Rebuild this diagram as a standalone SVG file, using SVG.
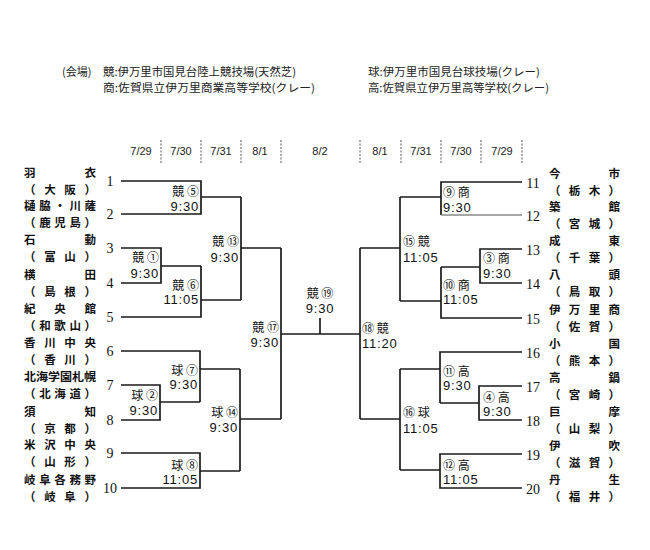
<svg xmlns="http://www.w3.org/2000/svg" width="650" height="550" viewBox="0 0 650 550">
<style>
.hd{font-family:"Noto Sans CJK JP","Noto Sans",sans-serif;font-size:11px;fill:#222}
.dt{font-family:"Liberation Sans",Arial,sans-serif;font-size:11px;fill:#222;text-anchor:middle}
.sep{stroke:#555;stroke-width:1;stroke-dasharray:2 1.5}
.num{font-family:"Liberation Serif","Times New Roman",serif;font-size:14px;fill:#111;text-anchor:middle}
.tm{font-family:"Noto Sans CJK JP","Noto Sans",sans-serif;font-size:11.5px;font-weight:bold;fill:#111}
.ml{font-family:"Noto Sans CJK JP","Noto Sans",sans-serif;font-size:12px;fill:#111}
.tt{font-family:"Liberation Sans",Arial,sans-serif;font-size:13px;fill:#111;letter-spacing:0.8px}
.r{text-anchor:end}
.c{text-anchor:middle}
.ln{fill:none;stroke:#1a1a1a;stroke-width:1.7}
</style>
<rect width="650" height="550" fill="#fff"/>
<g id="header">
<text class="hd" x="62" y="76">(会場)</text>
<text class="hd" x="103" y="76" textLength="193" lengthAdjust="spacingAndGlyphs">競:伊万里市国見台陸上競技場(天然芝)</text>
<text class="hd" x="103" y="92" textLength="212" lengthAdjust="spacingAndGlyphs">商:佐賀県立伊万里商業高等学校(クレー)</text>
<text class="hd" x="368" y="76" textLength="172" lengthAdjust="spacingAndGlyphs">球:伊万里市国見台球技場(クレー)</text>
<text class="hd" x="368" y="92" textLength="181" lengthAdjust="spacingAndGlyphs">高:佐賀県立伊万里高等学校(クレー)</text>
</g>
<g id="dates">
<line class="sep" x1="161" y1="140" x2="161" y2="163"/>
<line class="sep" x1="201" y1="140" x2="201" y2="163"/>
<line class="sep" x1="241" y1="140" x2="241" y2="163"/>
<line class="sep" x1="281" y1="140" x2="281" y2="163"/>
<line class="sep" x1="360" y1="140" x2="360" y2="163"/>
<line class="sep" x1="401" y1="140" x2="401" y2="163"/>
<line class="sep" x1="441" y1="140" x2="441" y2="163"/>
<line class="sep" x1="481" y1="140" x2="481" y2="163"/>
<line class="sep" x1="522" y1="140" x2="522" y2="163"/>
<text class="dt" x="141" y="155">7/29</text>
<text class="dt" x="181" y="155">7/30</text>
<text class="dt" x="221" y="155">7/31</text>
<text class="dt" x="260" y="155">8/1</text>
<text class="dt" x="320" y="155">8/2</text>
<text class="dt" x="380" y="155">8/1</text>
<text class="dt" x="421" y="155">7/31</text>
<text class="dt" x="461" y="155">7/30</text>
<text class="dt" x="502" y="155">7/29</text>
</g>
<g id="connectors">
<path class="ln" d="M121,181 H201 V214 H121"/>
<path class="ln" d="M201,197 H241"/>
<path class="ln" d="M121,248 H161 V283 H121"/>
<path class="ln" d="M161,266 H201"/>
<path class="ln" d="M121,317 H201 V266"/>
<path class="ln" d="M201,300 H241"/>
<path class="ln" d="M241,197 V300"/>
<path class="ln" d="M241,248 H281"/>
<path class="ln" d="M121,351 H200 V402"/>
<path class="ln" d="M121,385 H160 V420 H121"/>
<path class="ln" d="M160,402 H200"/>
<path class="ln" d="M200,369 H240"/>
<path class="ln" d="M121,453 H200 V488 H121"/>
<path class="ln" d="M200,471 H240"/>
<path class="ln" d="M240,369 V471"/>
<path class="ln" d="M240,419 H281"/>
<path class="ln" d="M281,248 V419"/>
<path class="ln" d="M281,334 H360"/>
<path class="ln" d="M320,318 V334"/>
<path class="ln" d="M360,248 V419"/>
<path class="ln" d="M522,182 H441 V215"/>
<path fill="none" stroke="#888" stroke-width="1.3" d="M441,215 H522"/>
<path class="ln" d="M441,197 H400"/>
<path class="ln" d="M522,249 H480 V283 H522"/>
<path class="ln" d="M480,267 H441"/>
<path class="ln" d="M522,318 H441 V267"/>
<path class="ln" d="M441,301 H400"/>
<path class="ln" d="M400,197 V301"/>
<path class="ln" d="M400,248 H360"/>
<path class="ln" d="M522,352 H440 V403"/>
<path class="ln" d="M522,386 H479 V420 H522"/>
<path class="ln" d="M479,403 H440"/>
<path class="ln" d="M440,369 H400"/>
<path class="ln" d="M522,454 H440 V488 H522"/>
<path class="ln" d="M440,470 H400"/>
<path class="ln" d="M400,369 V470"/>
<path class="ln" d="M400,419 H360"/>
</g>
<g id="team1"><text class="tm" x="24" y="177" textLength="72" lengthAdjust="spacing">羽衣</text><text class="tm" x="24" y="194" textLength="72" lengthAdjust="spacing">（大阪）</text><text class="num" x="110" y="186">1</text></g>
<g id="team2"><text class="tm" x="24" y="210" textLength="72" lengthAdjust="spacing">樋脇・川薩</text><text class="tm" x="24" y="227" textLength="72" lengthAdjust="spacing">（鹿児島）</text><text class="num" x="110" y="219">2</text></g>
<g id="team3"><text class="tm" x="24" y="244" textLength="72" lengthAdjust="spacing">石動</text><text class="tm" x="24" y="261" textLength="72" lengthAdjust="spacing">（富山）</text><text class="num" x="110" y="253">3</text></g>
<g id="team4"><text class="tm" x="24" y="279" textLength="72" lengthAdjust="spacing">横田</text><text class="tm" x="24" y="296" textLength="72" lengthAdjust="spacing">（島根）</text><text class="num" x="110" y="288">4</text></g>
<g id="team5"><text class="tm" x="24" y="313" textLength="72" lengthAdjust="spacing">紀央館</text><text class="tm" x="24" y="330" textLength="72" lengthAdjust="spacing">（和歌山）</text><text class="num" x="110" y="322">5</text></g>
<g id="team6"><text class="tm" x="24" y="347" textLength="72" lengthAdjust="spacing">香川中央</text><text class="tm" x="24" y="364" textLength="72" lengthAdjust="spacing">（香川）</text><text class="num" x="110" y="356">6</text></g>
<g id="team7"><text class="tm" x="24" y="381" textLength="72" lengthAdjust="spacingAndGlyphs">北海学園札幌</text><text class="tm" x="24" y="398" textLength="72" lengthAdjust="spacing">（北海道）</text><text class="num" x="110" y="390">7</text></g>
<g id="team8"><text class="tm" x="24" y="416" textLength="72" lengthAdjust="spacing">須知</text><text class="tm" x="24" y="433" textLength="72" lengthAdjust="spacing">（京都）</text><text class="num" x="110" y="425">8</text></g>
<g id="team9"><text class="tm" x="24" y="449" textLength="72" lengthAdjust="spacing">米沢中央</text><text class="tm" x="24" y="466" textLength="72" lengthAdjust="spacing">（山形）</text><text class="num" x="110" y="458">9</text></g>
<g id="team10"><text class="tm" x="24" y="484" textLength="72" lengthAdjust="spacing">岐阜各務野</text><text class="tm" x="24" y="501" textLength="72" lengthAdjust="spacing">（岐阜）</text><text class="num" x="110" y="493">10</text></g>
<g id="team11"><text class="tm" x="549" y="178" textLength="71" lengthAdjust="spacing">今市</text><text class="tm" x="549" y="195" textLength="71" lengthAdjust="spacing">（栃木）</text><text class="num" x="533" y="188">11</text></g>
<g id="team12"><text class="tm" x="549" y="211" textLength="71" lengthAdjust="spacing">築館</text><text class="tm" x="549" y="228" textLength="71" lengthAdjust="spacing">（宮城）</text><text class="num" x="533" y="221">12</text></g>
<g id="team13"><text class="tm" x="549" y="245" textLength="71" lengthAdjust="spacing">成東</text><text class="tm" x="549" y="262" textLength="71" lengthAdjust="spacing">（千葉）</text><text class="num" x="533" y="255">13</text></g>
<g id="team14"><text class="tm" x="549" y="279" textLength="71" lengthAdjust="spacing">八頭</text><text class="tm" x="549" y="296" textLength="71" lengthAdjust="spacing">（鳥取）</text><text class="num" x="533" y="289">14</text></g>
<g id="team15"><text class="tm" x="549" y="314" textLength="71" lengthAdjust="spacing">伊万里商</text><text class="tm" x="549" y="331" textLength="71" lengthAdjust="spacing">（佐賀）</text><text class="num" x="533" y="324">15</text></g>
<g id="team16"><text class="tm" x="549" y="348" textLength="71" lengthAdjust="spacing">小国</text><text class="tm" x="549" y="365" textLength="71" lengthAdjust="spacing">（熊本）</text><text class="num" x="533" y="358">16</text></g>
<g id="team17"><text class="tm" x="549" y="382" textLength="71" lengthAdjust="spacing">高鍋</text><text class="tm" x="549" y="399" textLength="71" lengthAdjust="spacing">（宮崎）</text><text class="num" x="533" y="392">17</text></g>
<g id="team18"><text class="tm" x="549" y="416" textLength="71" lengthAdjust="spacing">巨摩</text><text class="tm" x="549" y="433" textLength="71" lengthAdjust="spacing">（山梨）</text><text class="num" x="533" y="426">18</text></g>
<g id="team19"><text class="tm" x="549" y="450" textLength="71" lengthAdjust="spacing">伊吹</text><text class="tm" x="549" y="467" textLength="71" lengthAdjust="spacing">（滋賀）</text><text class="num" x="533" y="460">19</text></g>
<g id="team20"><text class="tm" x="549" y="484" textLength="71" lengthAdjust="spacing">丹生</text><text class="tm" x="549" y="501" textLength="71" lengthAdjust="spacing">（福井）</text><text class="num" x="533" y="494">20</text></g>
<g id="m1"><text class="ml r" x="159" y="262">競 ①</text><text class="tt r" x="159" y="278">9:30</text></g>
<g id="m2"><text class="ml r" x="158" y="400">球 ②</text><text class="tt r" x="158" y="415">9:30</text></g>
<g id="m3"><text class="ml" x="483" y="263">③ 商</text><text class="tt" x="483" y="278">9:30</text></g>
<g id="m4"><text class="ml" x="483" y="402">④ 高</text><text class="tt" x="483" y="416">9:30</text></g>
<g id="m5"><text class="ml r" x="199" y="196">競 ⑤</text><text class="tt r" x="199" y="211">9:30</text></g>
<g id="m6"><text class="ml r" x="199" y="290">競 ⑥</text><text class="tt r" x="199" y="304">11:05</text></g>
<g id="m7"><text class="ml r" x="198" y="375">球 ⑦</text><text class="tt r" x="198" y="389">9:30</text></g>
<g id="m8"><text class="ml r" x="198" y="470">球 ⑧</text><text class="tt r" x="198" y="484">11:05</text></g>
<g id="m9"><text class="ml" x="443" y="197">⑨ 商</text><text class="tt" x="443" y="212">9:30</text></g>
<g id="m10"><text class="ml" x="443" y="290">⑩ 商</text><text class="tt" x="443" y="304">11:05</text></g>
<g id="m11"><text class="ml" x="443" y="376">⑪ 高</text><text class="tt" x="443" y="390">9:30</text></g>
<g id="m12"><text class="ml" x="443" y="470">⑫ 高</text><text class="tt" x="443" y="484">11:05</text></g>
<g id="m13"><text class="ml r" x="239" y="246">競 ⑬</text><text class="tt r" x="239" y="262">9:30</text></g>
<g id="m14"><text class="ml r" x="238" y="417">球 ⑭</text><text class="tt r" x="238" y="432">9:30</text></g>
<g id="m15"><text class="ml" x="403" y="246">⑮ 競</text><text class="tt" x="403" y="262">11:05</text></g>
<g id="m16"><text class="ml" x="403" y="417">⑯ 球</text><text class="tt" x="403" y="433">11:05</text></g>
<g id="m17"><text class="ml r" x="279" y="332">競 ⑰</text><text class="tt r" x="279" y="347">9:30</text></g>
<g id="m18"><text class="ml" x="362" y="333">⑱ 競</text><text class="tt" x="362" y="348">11:20</text></g>
<g id="m19"><text class="ml c" x="320" y="298">競 ⑲</text><text class="tt c" x="320" y="313">9:30</text></g>
</svg>
